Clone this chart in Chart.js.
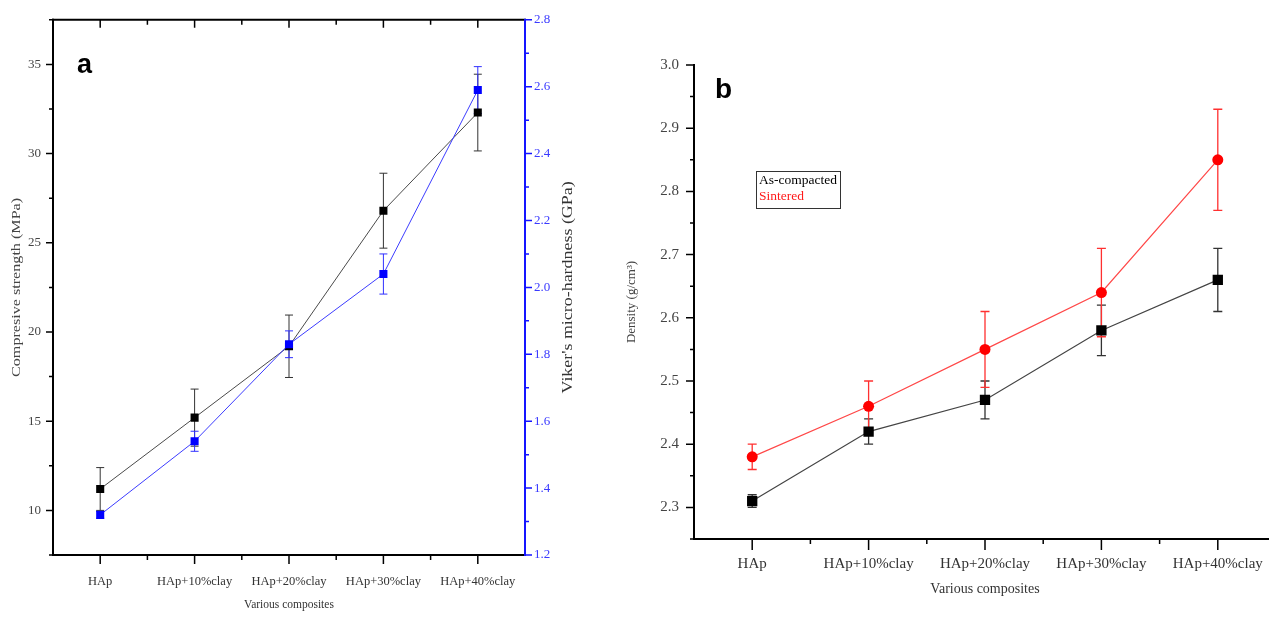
<!DOCTYPE html>
<html>
<head>
<meta charset="utf-8">
<script src="https://cdn.jsdelivr.net/npm/chart.js@4.4.1/dist/chart.umd.min.js"></script>
<style>
  html, body { margin: 0; padding: 0; background: #fff; overflow: hidden; }
  body { width: 1269px; height: 618px; position: relative; }
  #panelA { position: absolute; left: 0; top: 0; }
  #panelB { position: absolute; left: 600px; top: 0; }
</style>
</head>
<body>
<canvas id="panelA" width="600" height="618"></canvas>
<canvas id="panelB" width="700" height="618"></canvas>
<script>
const composites = ['HAp', 'HAp+10%clay', 'HAp+20%clay', 'HAp+30%clay', 'HAp+40%clay'];

// (a) compressive strength (MPa) and Vickers hardness (GPa)
const strength = [11.2, 15.2, 19.2, 26.8, 32.3];
const strengthErr = [1.2, 1.6, 1.75, 2.1, 2.15];
const hardness = [1.32, 1.54, 1.83, 2.04, 2.59];
const hardnessErr = [0.01, 0.03, 0.04, 0.06, 0.07];
const strengthTicks = [10, 15, 20, 25, 30, 35];
const hardnessTicks = [1.2, 1.4, 1.6, 1.8, 2.0, 2.2, 2.4, 2.6, 2.8];

// (b) density (g/cm3)
const densityCompacted = [2.31, 2.42, 2.47, 2.58, 2.66];
const densityCompactedErr = [0.01, 0.02, 0.03, 0.04, 0.05];
const densitySintered = [2.38, 2.46, 2.55, 2.64, 2.85];
const densitySinteredErr = [0.02, 0.04, 0.06, 0.07, 0.08];
const densityTicks = [2.3, 2.4, 2.5, 2.6, 2.7, 2.8, 2.9, 3.0];

const SERIF = "'Liberation Serif', 'Times New Roman', serif";
const SANS = "'Liberation Sans', Arial, sans-serif";

// vertical error bars with caps, drawn under the markers
const errorBars = {
  id: 'errorBars',
  beforeDatasetsDraw(chart) {
    const { ctx } = chart;
    chart.data.datasets.forEach((ds, i) => {
      if (!ds.errors) return;
      const meta = chart.getDatasetMeta(i);
      const yScale = chart.scales[meta.yAxisID];
      ctx.save();
      ctx.strokeStyle = ds.errorColor;
      ctx.lineWidth = ds.errorWidth || 1;
      meta.data.forEach((pt, j) => {
        const hi = yScale.getPixelForValue(ds.data[j] + ds.errors[j]);
        const lo = yScale.getPixelForValue(ds.data[j] - ds.errors[j]);
        const c = ds.capHalf || 4;
        ctx.beginPath();
        ctx.moveTo(pt.x, hi); ctx.lineTo(pt.x, lo);
        ctx.moveTo(pt.x - c, hi); ctx.lineTo(pt.x + c, hi);
        ctx.moveTo(pt.x - c, lo); ctx.lineTo(pt.x + c, lo);
        ctx.stroke();
      });
      ctx.restore();
    });
  }
};

function tickPixels(scale) {
  let major, minor = [];
  if (scale.type === 'category') {
    major = scale.ticks.map((t, i) => scale.getPixelForTick(i));
    for (let i = 0; i < major.length - 1; i++) minor.push((major[i] + major[i + 1]) / 2);
    return { major, minor };
  }
  const vals = scale.ticks.map(t => t.value);
  const step = vals[1] - vals[0];
  const eps = step * 1e-6;
  const mins = vals.map(v => v - step / 2).concat([vals[vals.length - 1] + step / 2]);
  major = vals.map(v => scale.getPixelForValue(v));
  minor = mins.filter(m => m >= scale.min - eps && m <= scale.max + eps).map(m => scale.getPixelForValue(m));
  return { major, minor };
}

// Origin-style frame: axis lines, major/minor ticks, titles, panel letter and legend box
function makeDecor(cfg) {
  return {
    id: 'decor',
    afterDatasetsDraw(chart) {
      const { ctx, chartArea: a } = chart;
      ctx.save();
      for (const side of cfg.sides) {
        ctx.strokeStyle = side.color;
        ctx.lineWidth = 2;
        ctx.beginPath();
        const vertical = side.edge === 'left' || side.edge === 'right';
        if (vertical) {
          ctx.moveTo(a[side.edge], a.top - 1); ctx.lineTo(a[side.edge], a.bottom + 1);
        } else {
          ctx.moveTo(a.left - 1, a[side.edge]); ctx.lineTo(a.right + 1, a[side.edge]);
        }
        ctx.stroke();
        const sign = (side.edge === 'left' || side.edge === 'top' ? -1 : 1) * (side.inward ? -1 : 1);
        const { major, minor } = tickPixels(chart.scales[side.scale]);
        ctx.lineWidth = 1.5;
        const draw = (list, len) => {
          ctx.beginPath();
          for (const p of list) {
            if (vertical) {
              ctx.moveTo(a[side.edge], p); ctx.lineTo(a[side.edge] + sign * len, p);
            } else {
              ctx.moveTo(p, a[side.edge]); ctx.lineTo(p, a[side.edge] + sign * len);
            }
          }
          ctx.stroke();
        };
        draw(major, side.major);
        draw(minor, side.minor);
      }
      ctx.restore();
    },
    afterDraw(chart) {
      const { ctx, chartArea: a } = chart;
      const midX = (a.left + a.right) / 2;
      const midY = (a.top + a.bottom) / 2;
      for (const t of cfg.texts) {
        const [x, y] = t.at(a, midX, midY);
        ctx.save();
        ctx.translate(x, y);
        if (t.rotate) ctx.rotate(t.rotate);
        if (t.stretch) ctx.scale(t.stretch, 1);
        ctx.font = t.font;
        ctx.fillStyle = t.color;
        ctx.textAlign = t.align || 'center';
        ctx.textBaseline = t.baseline || 'middle';
        ctx.fillText(t.text, 0, 0);
        ctx.restore();
      }
      if (cfg.legend) {
        const L = cfg.legend;
        const x = a.left + L.dx, y = a.top + L.dy;
        ctx.save();
        ctx.strokeStyle = '#333';
        ctx.lineWidth = 1;
        ctx.strokeRect(x + 0.5, y + 0.5, L.w, L.h);
        ctx.font = L.font;
        ctx.textAlign = 'left';
        ctx.textBaseline = 'middle';
        chart.data.datasets.forEach((ds, i) => {
          ctx.fillStyle = ds.legendColor;
          ctx.fillText(ds.label, x + 3, y + 9 + i * 16.5);
        });
        ctx.restore();
      }
    }
  };
}

const tickFont = size => ({ family: SERIF, size });
const fixedTicks = list => scale => { scale.ticks = list.map(v => ({ value: v })); };
const noGrid = { display: false, drawTicks: false };

// ---- panel (a) ----
new Chart(document.getElementById('panelA'), {
  type: 'line',
  data: {
    labels: composites,
    datasets: [
      {
        label: 'Compressive strength',
        data: strength, errors: strengthErr, errorColor: '#333', capHalf: 4,
        yAxisID: 'y', order: 1,
        borderColor: '#4a4a4a', borderWidth: 1,
        pointStyle: 'rect', pointRadius: 5.7,
        pointBackgroundColor: '#000', pointBorderColor: '#000', pointBorderWidth: 0
      },
      {
        label: "Viker's micro-hardness",
        data: hardness, errors: hardnessErr, errorColor: '#3030ff', capHalf: 4,
        yAxisID: 'y1', order: 0,
        borderColor: '#3c3cff', borderWidth: 1,
        pointStyle: 'rect', pointRadius: 5.7,
        pointBackgroundColor: '#0000ff', pointBorderColor: '#0000ff', pointBorderWidth: 0
      }
    ]
  },
  options: {
    responsive: false, animation: false, devicePixelRatio: 1,
    layout: { padding: { top: 17, left: 0, right: 0, bottom: 0 } },
    plugins: { legend: { display: false }, tooltip: { enabled: false } },
    scales: {
      x: {
        type: 'category', offset: true,
        grid: noGrid, border: { display: false },
        ticks: { padding: 19, color: '#333', font: tickFont(12.5), maxRotation: 0, autoSkip: false },
        afterFit: s => { s.height = 63; }
      },
      y: {
        position: 'left', min: 7.5, max: 37.5,
        grid: noGrid, border: { display: false },
        afterBuildTicks: fixedTicks(strengthTicks),
        ticks: { padding: 12, color: '#444', font: tickFont(13) },
        afterFit: s => { s.width = 53; }
      },
      y1: {
        position: 'right', min: 1.2, max: 2.8,
        grid: noGrid, border: { display: false },
        afterBuildTicks: fixedTicks(hardnessTicks),
        ticks: { padding: 9, color: '#3a3aff', font: tickFont(13), callback: v => v.toFixed(1) },
        afterFit: s => { s.width = 75; }
      }
    }
  },
  plugins: [errorBars, makeDecor({
    sides: [
      { edge: 'bottom', scale: 'x', color: '#000', major: 9, minor: 5 },
      { edge: 'top', scale: 'x', color: '#000', major: 8, minor: 5, inward: true },
      { edge: 'left', scale: 'y', color: '#000', major: 7, minor: 4 },
      { edge: 'right', scale: 'y1', color: '#1515ff', major: 7, minor: 4 }
    ],
    texts: [
      { text: 'a', font: `bold 27px ${SANS}`, color: '#000', align: 'left', baseline: 'alphabetic', at: a => [a.left + 24, a.top + 53] },
      { text: 'Compresive strength (MPa)', font: `13px ${SERIF}`, stretch: 1.24, color: '#444', rotate: -Math.PI / 2, at: (a, mx, my) => [17, my] },
      { text: "Viker's micro-hardness (GPa)", font: `14px ${SERIF}`, stretch: 1.28, color: '#333', rotate: -Math.PI / 2, at: (a, mx, my) => [a.right + 43, my] },
      { text: 'Various composites', font: `11.5px ${SERIF}`, color: '#333', at: (a, mx) => [mx, a.bottom + 50] }
    ]
  })]
});

// ---- panel (b) ----
new Chart(document.getElementById('panelB'), {
  type: 'line',
  data: {
    labels: composites,
    datasets: [
      {
        label: 'As-compacted', legendColor: '#000',
        data: densityCompacted, errors: densityCompactedErr, errorColor: '#333', errorWidth: 1.3, capHalf: 4.5,
        order: 0,
        borderColor: '#444', borderWidth: 1.2,
        pointStyle: 'rect', pointRadius: 7.3,
        pointBackgroundColor: '#000', pointBorderColor: '#000', pointBorderWidth: 0
      },
      {
        label: 'Sintered', legendColor: '#ff1a1a',
        data: densitySintered, errors: densitySinteredErr, errorColor: '#ff3030', errorWidth: 1.3, capHalf: 4.5,
        order: 1,
        borderColor: '#ff4848', borderWidth: 1.2,
        pointStyle: 'circle', pointRadius: 5.5,
        pointBackgroundColor: '#ff0000', pointBorderColor: '#ff0000', pointBorderWidth: 0
      }
    ]
  },
  options: {
    responsive: false, animation: false, devicePixelRatio: 1,
    layout: { padding: { top: 65, left: 0, right: 24, bottom: 0 } },
    plugins: { legend: { display: false }, tooltip: { enabled: false } },
    scales: {
      x: {
        type: 'category', offset: true,
        grid: noGrid, border: { display: false },
        ticks: { padding: 16, color: '#333', font: tickFont(15), maxRotation: 0, autoSkip: false },
        afterFit: s => { s.height = 79; }
      },
      y: {
        position: 'left', min: 2.25, max: 3.0,
        grid: noGrid, border: { display: false },
        afterBuildTicks: fixedTicks(densityTicks),
        ticks: { padding: 15, color: '#444', font: tickFont(15), callback: v => v.toFixed(1) },
        afterFit: s => { s.width = 94; }
      }
    }
  },
  plugins: [errorBars, makeDecor({
    sides: [
      { edge: 'bottom', scale: 'x', color: '#000', major: 11, minor: 5 },
      { edge: 'left', scale: 'y', color: '#000', major: 8, minor: 4 }
    ],
    texts: [
      { text: 'b', font: `bold 28px ${SANS}`, color: '#000', align: 'left', baseline: 'alphabetic', at: a => [a.left + 21, a.top + 33] },
      { text: 'Density (g/cm³)', font: `13px ${SERIF}`, color: '#444', rotate: -Math.PI / 2, at: (a, mx, my) => [a.left - 62, my] },
      { text: 'Various composites', font: `14px ${SERIF}`, color: '#333', at: (a, mx) => [mx, a.bottom + 50] }
    ],
    legend: { dx: 62, dy: 106, w: 84, h: 37, font: `13.5px ${SERIF}` }
  })]
});
</script>
</body>
</html>
